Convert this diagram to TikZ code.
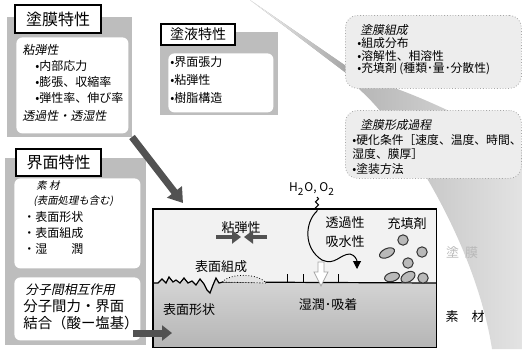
\documentclass[tikz,border=0pt]{standalone}
\usepackage{fontspec}
\setmainfont{Noto Sans CJK JP}
\newfontfamily\slantjp[FakeSlant=0.2]{Noto Sans CJK JP}
\usepackage{tikz}
\usetikzlibrary{arrows.meta,decorations.pathmorphing}
\definecolor{panelgray}{gray}{0.74}
\definecolor{coatgray}{gray}{0.95}
\definecolor{notegray}{gray}{0.93}
\definecolor{arrowgray}{gray}{0.32}

\tikzset{
  header/.style={draw=black, line width=1.1pt, fill=white, anchor=north west, inner sep=0pt},
  panel/.style={fill=panelgray, anchor=north west, inner sep=0pt, outer sep=0pt},
  inbox/.style={fill=white, rounded corners=3pt, anchor=north west, inner sep=0pt},
  notebox/.style={fill=notegray, draw=gray!70, densely dotted, rounded corners=6pt, anchor=north west, inner sep=0pt},
  txt/.style={anchor=west, inner sep=0pt, font=\fontsize{6}{7}\selectfont},
  itxt/.style={anchor=west, inner sep=0pt, font=\fontsize{6}{7}\slantjp},
  notetxt/.style={anchor=west, inner sep=0pt, font=\fontsize{5.9}{6}\selectfont},
  sectxt/.style={inner sep=0pt, font=\fontsize{6.5}{7}\selectfont},
  fatarrow/.style={arrowgray, line width=3.5pt, -{Triangle[length=7pt,width=9pt]}},
  particle/.style={fill=gray!55, draw=black!80, line width=0.5pt},
}

\begin{document}
\begin{tikzpicture}[x=0.5pt, y=-0.5pt]
\useasboundingbox (0,0) rectangle (522,349);

% Cone behind the note boxes
\shade[left color=gray!80, right color=gray!22]
  (250,0) -- (346,66) .. controls (370,80) and (385,85) .. (400,90)
  .. controls (440,105) and (490,130) .. (522,150) -- (522,349) -- (492,349)
  .. controls (475,240) and (400,125) .. (360,90) -- (346,73) -- cycle;
% its tip fades out towards the top
\shade[left color=gray!8, right color=gray!70]
  (250,0) -- (346,66) -- (346,73) -- cycle;

% Note boxes
\node[notebox, minimum width=88pt, minimum height=36.5pt] (comp) at (345,15) {};
\node[notebox, minimum width=88pt, minimum height=34pt] (form) at (345,110) {};

\node[notetxt, font=\fontsize{5.9}{6}\slantjp] (comphd) at (360,30) {塗膜組成};
\node[notetxt] (comp1) at (357,43) {•組成分布};
\node[notetxt] (comp2) at (357,56) {•溶解性、相溶性};
\node[notetxt] (comp3) at (357,69) {•充填剤 (種類･量･分散性)};

\node[notetxt, font=\fontsize{5.9}{6}\slantjp] (formhd) at (360,125) {塗膜形成過程};
\node[notetxt] (form1) at (352,140) {•硬化条件［速度、温度、時間、};
\node[notetxt] (form2) at (352,154) {湿度、膜厚］};
\node[notetxt] (form3) at (352,169) {•塗装方法};

% Coating film panel
\node[panel, minimum width=62.5pt, minimum height=60pt] (film) at (7,17) {};
\node[inbox, minimum width=56pt, minimum height=48pt] (filmin) at (16,37) {};
\node[header, minimum width=43pt, minimum height=14pt, font=\fontsize{8}{9}\selectfont] (filmhd) at (14,4) {塗膜特性};
\node[itxt] (film1) at (22,50) {粘弾性};
\node[txt] (film2) at (35,66) {•内部応力};
\node[txt] (film3) at (35,82) {•膨張、収縮率};
\node[txt] (film4) at (35,98) {•弾性率、伸び率};
\node[itxt] (film5) at (22,116) {透過性・透湿性};

% Coating liquid panel
\node[panel, minimum width=59pt, minimum height=41.5pt] (liquid) at (160,32) {};
\node[inbox, minimum width=52.5pt, minimum height=29.5pt] (liquidin) at (168,53) {};
\node[header, minimum width=37pt, minimum height=10.5pt, font=\fontsize{7}{8}\selectfont] (liquidhd) at (160,23) {塗液特性};
\node[txt] (liquid1) at (170,62) {•界面張力};
\node[txt] (liquid2) at (170,80) {•粘弾性};
\node[txt] (liquid3) at (170,98) {•樹脂構造};

% Interface panel
\node[panel, minimum width=70.5pt, minimum height=93.5pt] (intf) at (5,158) {};
\node[inbox, minimum width=63pt, minimum height=45pt] (intfa) at (14,178) {};
\node[inbox, minimum width=63pt, minimum height=31.5pt] (intfb) at (14,277) {};
\node[header, minimum width=42.5pt, minimum height=13.5pt, font=\fontsize{8}{9}\selectfont] (intfhd) at (15,148) {界面特性};
\node[itxt, font=\fontsize{5.2}{6}\slantjp] (intf1) at (36,186) {素 材};
\node[itxt, font=\fontsize{5.2}{6}\slantjp] (intf2) at (33,201) {(表面処理も含む)};
\node[txt] (intf3) at (23,217) {・表面形状};
\node[txt] (intf4) at (23,233) {・表面組成};
\node[txt] (intf5) at (23,249) {・湿　　潤};
\node[itxt, font=\fontsize{6.4}{7}\slantjp] (intf6) at (25,290) {分子間相互作用};
\node[txt, font=\fontsize{7.2}{8}\selectfont] (intf7) at (23,306) {分子間力・界面};
\node[txt, font=\fontsize{7.2}{8}\selectfont] (intf8) at (23,323) {結合（酸ー塩基）};

% Cross section: coating on substrate
\node[fill=coatgray, anchor=north west, inner sep=0pt, minimum width=141.5pt, minimum height=69pt] (section) at (153,209) {};
\shade[top color=gray!32, bottom color=gray!58]
  (153,283) -- (158,283) -- (162,279) -- (166,283) -- (169,277) -- (173,282) -- (176,280)
  -- (180,283) -- (184,278) -- (188,283) -- (192,281) -- (196,285) -- (200,279) -- (204,284)
  -- (207,290) -- (210,293) -- (213,285) -- (216,278) -- (219,283) -- (223,282)
  -- (436,283) -- (436,347) -- (153,347) -- cycle;
\draw[line width=0.6pt]
  (153,283) -- (158,283) -- (162,279) -- (166,283) -- (169,277) -- (173,282) -- (176,280)
  -- (180,283) -- (184,278) -- (188,283) -- (192,281) -- (196,285) -- (200,279) -- (204,284)
  -- (207,290) -- (210,293) -- (213,285) -- (216,278) -- (219,283) -- (223,282)
  -- (436,283);
\draw[densely dotted, fill=gray!22] (222,282) .. controls (230,273) and (258,273) .. (266,283) -- cycle;
\draw[line width=0.5pt] (287,274) -- (287,283) (303,274) -- (303,283) (338,274) -- (338,283);
\draw[line width=0.6pt] (section.north west) rectangle (section.south east);

% Filler particles
\draw[particle] (403,240) circle [radius=2.6pt];
\draw[particle] (387,253) circle [x radius=4pt, y radius=2.2pt, rotate=25];
\draw[particle] (422,252) circle [radius=2.6pt];
\draw[particle] (408,263) circle [radius=2.6pt];
\draw[particle] (392,277) circle [x radius=3.8pt, y radius=2.2pt, rotate=15];
\draw[particle] (408,277) circle [x radius=3.8pt, y radius=2.4pt, rotate=30];
\draw[particle] (423,278) circle [radius=2.6pt];

% Labels in the section
\node[sectxt] (visc) at (241,228) {粘弾性};
\node[sectxt] (scomp) at (221,267) {表面組成};
\node[sectxt] (sform) at (189,310) {表面形状};
\node[sectxt] (perm) at (345,223) {透過性};
\node[sectxt] (absb) at (345,242) {吸水性};
\node[sectxt] (filler) at (407,224) {充填剤};
\node[sectxt] (wet) at (328,305) {湿潤･吸着};
\node[sectxt, text=gray!55] (coatlbl) at (462,253) {塗\kern3pt膜};
\node[sectxt] (sublbl) at (465,317) {素　材};
\node[sectxt, font=\fontsize{6}{7}\selectfont] (gas) at (312,189) {H\textsubscript{2}O, O\textsubscript{2}};

% Arrows
\coordinate (fa) at (183,203);
\draw[fatarrow] (film.south east) -- (fa);
\coordinate (ia) at (133,333);
\coordinate (ib) at (172,333);
\draw[arrowgray, line width=3.5pt, -{Triangle[length=5pt,width=7.5pt]}] (ia) -- (ib);

\coordinate (pl) at (216,237);
\coordinate (plt) at (241,237);
\coordinate (pr) at (267,237);
\coordinate (prt) at (244,237);
\draw[arrowgray, line width=2.2pt, -{Triangle[length=4.5pt,width=6.5pt]}] (pl) -- (plt);
\draw[arrowgray, line width=2.2pt, -{Triangle[length=4.5pt,width=6.5pt]}] (pr) -- (prt);

\coordinate (wa) at (317,197);
\coordinate (wb) at (317,211);
\coordinate (wc) at (357,269);
\draw[line width=0.5pt, decorate, decoration={snake, amplitude=0.8pt, segment length=3pt}] (wa) -- (wb);
\draw[line width=0.5pt, -{Triangle[length=4pt,width=4pt]}] (wb) .. controls (305,222) and (303,248) .. (322,260)
  .. controls (335,266) and (340,254) .. (350,254) .. controls (355,255) and (357,260) .. (wc);

\draw[fill=white, draw=gray!70, line width=0.4pt] (318,262) -- (324,262) -- (324,272) -- (328,272)
  -- (321,286) -- (314,272) -- (318,272) -- cycle;
\end{tikzpicture}
\end{document}
